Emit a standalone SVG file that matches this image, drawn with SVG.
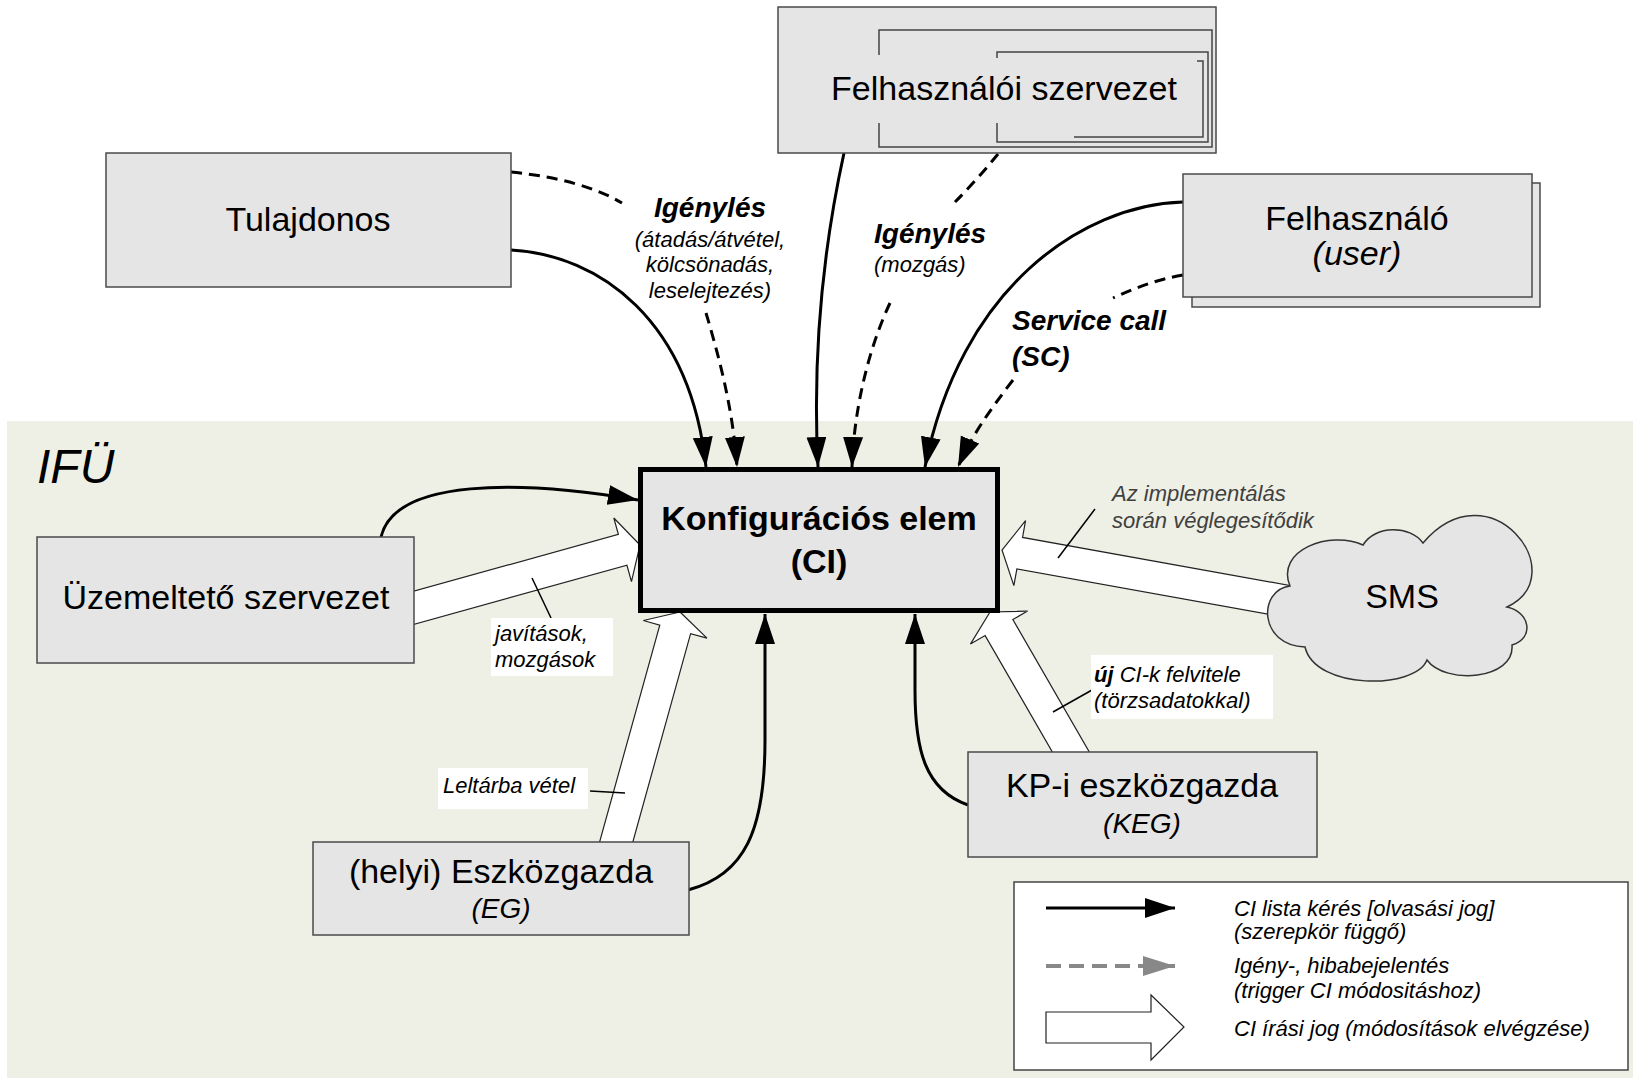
<svg xmlns="http://www.w3.org/2000/svg" width="1633" height="1078" viewBox="0 0 1633 1078">
<style>
text{font-family:"Liberation Sans",Arial,sans-serif;fill:#000}
.node{fill:#e5e5e5;stroke:#4a4a4a;stroke-width:1.5}
.frame{fill:none;stroke:#444;stroke-width:1.5}
.big{font-size:34px}
.mid{font-size:28px}
.it{font-style:italic}
.bi{font-style:italic;font-weight:bold}
.sm{font-size:22px;font-style:italic}
.c{text-anchor:middle}
.solid{fill:none;stroke:#000;stroke-width:3}
.dash{fill:none;stroke:#000;stroke-width:3;stroke-dasharray:11 7}
.hollow{fill:#fff;stroke:#222;stroke-width:1.2}
.lead{stroke:#000;stroke-width:1.5}
.lbl{fill:#fff}
</style>
<defs>
<marker id="ah" markerUnits="userSpaceOnUse" markerWidth="32" markerHeight="22" refX="30" refY="10" orient="auto" viewBox="0 0 32 22"><path d="M0,0 L30,10 L0,20 z" fill="#000"/></marker>
<marker id="ahg" markerUnits="userSpaceOnUse" markerWidth="34" markerHeight="22" refX="32" refY="10" orient="auto" viewBox="0 0 34 22"><path d="M0,0 L32,10 L0,20 z" fill="#888"/></marker>
</defs>
<rect x="0" y="0" width="1633" height="1078" fill="#fff"/>
<rect id="ifu" x="7" y="421" width="1626" height="657" fill="#eeefe5"/>
<text x="37" y="483" font-size="48" class="it">IFÜ</text>

<g id="connectors">
<polygon class="hollow" transform="translate(640,545) rotate(-15.5)" points="0,0 -18,-33 -18,-16 -250,-16 -250,16 -18,16 -18,33"/>
<polygon class="hollow" transform="translate(680,612) rotate(-74.5)" points="0,0 -18,-33 -18,-16 -250,-16 -250,16 -18,16 -18,33"/>
<polygon class="hollow" transform="translate(990,612) rotate(-120)" points="0,0 -18,-33 -18,-16 -185,-16 -185,16 -18,16 -18,33"/>
<polygon class="hollow" transform="translate(1002,550) rotate(-169.8)" points="0,0 -18,-33 -18,-16 -296,-16 -296,16 -18,16 -18,33"/>
<path class="solid" d="M511,250 C600,255 690,320 706,467" marker-end="url(#ah)"/>
<path class="dash" d="M511,172 C560,177 597,188 622,203"/>
<path class="dash" d="M706,313 C720,360 733,410 737,467" marker-end="url(#ah)"/>
<path class="solid" d="M844,153 C825,240 812,350 818,467" marker-end="url(#ah)"/>
<path class="dash" d="M998,154 C985,170 970,187 955,202"/>
<path class="dash" d="M890,303 C868,350 854,410 852,467" marker-end="url(#ah)"/>
<path class="solid" d="M1183,202 C1080,205 960,290 925,467" marker-end="url(#ah)"/>
<path class="dash" d="M1183,275 C1155,280 1135,288 1113,298"/>
<path class="dash" d="M1013,380 C990,410 972,435 958,467" marker-end="url(#ah)"/>
<path class="solid" d="M381,537 C395,478 520,480 638,500" marker-end="url(#ah)"/>
<path class="solid" d="M688,890 C745,875 765,830 765,740 L765,614" marker-end="url(#ah)"/>
<path class="solid" d="M968,805 C925,790 915,750 915,690 L915,614" marker-end="url(#ah)"/>
</g>

<g id="felhasznaloi-szervezet">
<rect class="node" x="778" y="7" width="438" height="146"/>
<path class="frame" d="M879,55 V30 H1212 V147 H879 V123"/>
<path class="frame" d="M997,58 V52 H1208 V142 H997 V123"/>
<path class="frame" d="M1197,61 H1203 V137 H1074"/>
<text x="1004" y="100" class="big c">Felhasználói szervezet</text>
</g>

<g id="tulajdonos">
<rect class="node" x="106" y="153" width="405" height="134"/>
<text x="308" y="231" class="big c">Tulajdonos</text>
</g>

<g id="felhasznalo">
<rect class="node" x="1192" y="183" width="348" height="124"/>
<rect class="node" x="1183" y="174" width="349" height="123"/>
<text x="1357" y="230" class="big c">Felhasználó</text>
<text x="1357" y="265" class="big c it">(user)</text>
</g>

<g id="ci">
<rect x="640.5" y="469.5" width="357" height="141" fill="#e5e5e5" stroke="#000" stroke-width="5"/>
<text x="819" y="530" font-size="34" font-weight="bold" class="c">Konfigurációs elem</text>
<text x="819" y="573" font-size="34" font-weight="bold" class="c">(CI)</text>
</g>

<g id="uzemelteto">
<rect class="node" x="37" y="537" width="377" height="126"/>
<text x="226" y="609" class="big c">Üzemeltető szervezet</text>
</g>

<g id="eg">
<rect class="node" x="313" y="842" width="376" height="93"/>
<text x="501" y="883" class="big c">(helyi) Eszközgazda</text>
<text x="501" y="918" class="mid c it">(EG)</text>
</g>

<g id="keg">
<rect class="node" x="968" y="752" width="349" height="105"/>
<text x="1142" y="797" class="big c">KP-i eszközgazda</text>
<text x="1142" y="833" class="mid c it">(KEG)</text>
</g>

<g id="sms">
<path fill="#e5e5e5" stroke="#333" stroke-width="1.5" d="M1290,586 C1258,590 1258,645 1305,647 C1315,690 1415,690 1427,660 C1445,685 1515,680 1512,645 C1535,638 1530,612 1507,607 C1575,575 1490,465 1423,543 C1410,525 1375,525 1363,545 C1330,530 1275,550 1290,586 Z"/>
<text x="1402" y="608" class="big c">SMS</text>
</g>

<g id="labels">
<text x="710" y="217" class="mid bi c">Igénylés</text>
<text x="710" y="247" class="sm c">(átadás/átvétel,</text>
<text x="710" y="272" class="sm c">kölcsönadás,</text>
<text x="710" y="298" class="sm c">leselejtezés)</text>
<text x="874" y="243" class="mid bi">Igénylés</text>
<text x="874" y="272" class="sm">(mozgás)</text>
<text x="1012" y="330" class="mid bi">Service call</text>
<text x="1012" y="366" class="mid bi">(SC)</text>

<line class="lead" x1="532" y1="578" x2="551" y2="618"/>
<rect class="lbl" x="491" y="618" width="122" height="58"/>
<text x="495" y="641" class="sm">javítások,</text>
<text x="495" y="667" class="sm">mozgások</text>

<line class="lead" x1="590" y1="791" x2="625" y2="793"/>
<rect class="lbl" x="438" y="768" width="150" height="41"/>
<text x="443" y="793" class="sm">Leltárba vétel</text>

<line class="lead" x1="1092" y1="690" x2="1053" y2="712"/>
<rect class="lbl" x="1091" y="655" width="182" height="64"/>
<text x="1094" y="682" class="sm"><tspan font-weight="bold">új</tspan> CI-k felvitele</text>
<text x="1094" y="708" class="sm">(törzsadatokkal)</text>

<line class="lead" x1="1095" y1="509" x2="1058" y2="558"/>
<text x="1112" y="501" class="sm" style="fill:#404040">Az implementálás</text>
<text x="1112" y="528" class="sm" style="fill:#404040">során véglegesítődik</text>
</g>

<g id="legend">
<rect x="1014" y="882" width="614" height="188" fill="#fff" stroke="#444" stroke-width="1.5"/>
<line class="solid" x1="1046" y1="908" x2="1175" y2="908" marker-end="url(#ah)"/>
<line x1="1046" y1="966" x2="1175" y2="966" stroke="#888" stroke-width="4" stroke-dasharray="15 8" marker-end="url(#ahg)"/>
<polygon class="hollow" points="1046,1012 1151,1012 1151,995 1184,1027 1151,1060 1151,1043 1046,1043"/>
<text x="1234" y="916" class="sm">CI lista kérés [olvasási jog]</text>
<text x="1234" y="939" class="sm">(szerepkör függő)</text>
<text x="1234" y="973" class="sm">Igény-, hibabejelentés</text>
<text x="1234" y="998" class="sm">(trigger CI módositáshoz)</text>
<text x="1234" y="1036" class="sm">CI írási jog (módosítások elvégzése)</text>
</g>
</svg>
